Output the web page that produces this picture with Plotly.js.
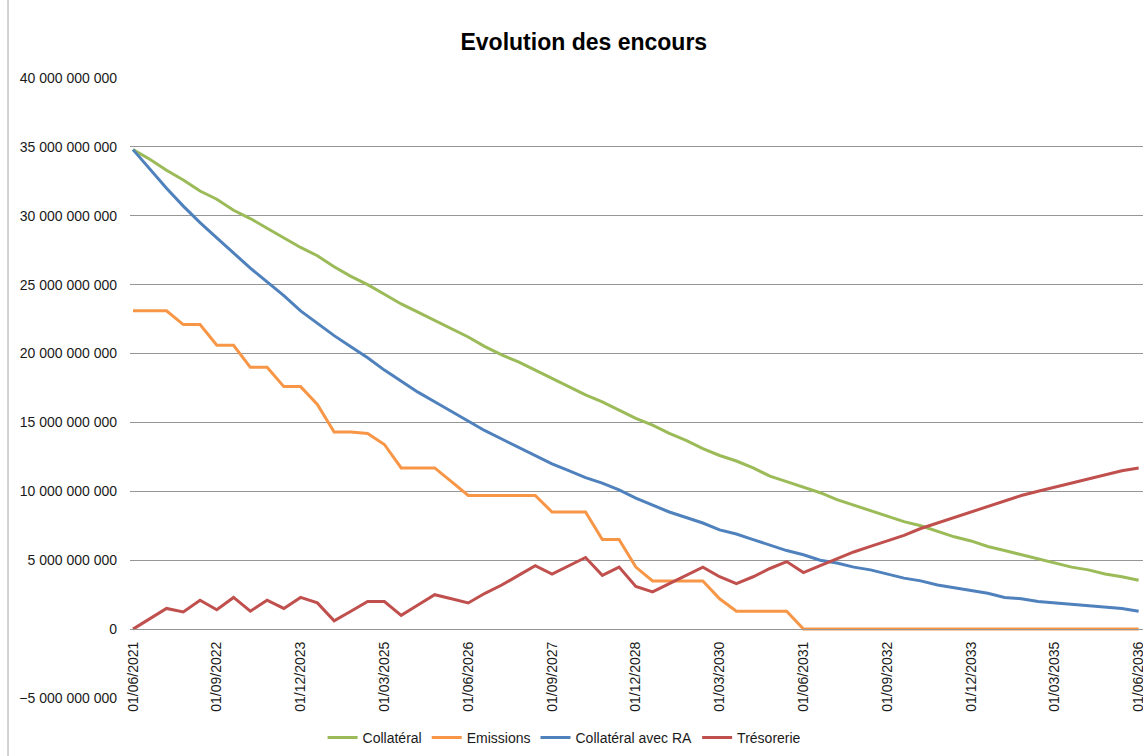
<!DOCTYPE html>
<html>
<head>
<meta charset="utf-8">
<script src="https://cdn.plot.ly/plotly-3.0.1.min.js"></script>
<style>
  html, body { margin: 0; padding: 0; background: #ffffff; }
  #chart { width: 1143px; height: 756px; }
</style>
</head>
<body>
<div id="chart"></div>
<script>
// Quarterly dates (categories)
const dates = [
  "01/06/2021","01/09/2021","01/12/2021",
  "01/03/2022","01/06/2022","01/09/2022","01/12/2022",
  "01/03/2023","01/06/2023","01/09/2023","01/12/2023",
  "01/03/2024","01/06/2024","01/09/2024","01/12/2024",
  "01/03/2025","01/06/2025","01/09/2025","01/12/2025",
  "01/03/2026","01/06/2026","01/09/2026","01/12/2026",
  "01/03/2027","01/06/2027","01/09/2027","01/12/2027",
  "01/03/2028","01/06/2028","01/09/2028","01/12/2028",
  "01/03/2029","01/06/2029","01/09/2029","01/12/2029",
  "01/03/2030","01/06/2030","01/09/2030","01/12/2030",
  "01/03/2031","01/06/2031","01/09/2031","01/12/2031",
  "01/03/2032","01/06/2032","01/09/2032","01/12/2032",
  "01/03/2033","01/06/2033","01/09/2033","01/12/2033",
  "01/03/2034","01/06/2034","01/09/2034","01/12/2034",
  "01/03/2035","01/06/2035","01/09/2035","01/12/2035",
  "01/03/2036","01/06/2036"
];

// Tick labels shown on the x axis
const tickLabels = [
  "01/06/2021","01/09/2022","01/12/2023","01/03/2025","01/06/2026",
  "01/09/2027","01/12/2028","01/03/2030","01/06/2031","01/09/2032",
  "01/12/2033","01/03/2035","01/06/2036"
];

// Series values, in billions
const collateral_bn = [
  34.8, 34.1, 33.3, 32.6, 31.8, 31.2, 30.4, 29.8, 29.1, 28.4,
  27.7, 27.1, 26.3, 25.6, 25.0, 24.3, 23.6, 23.0, 22.4, 21.8,
  21.2, 20.5, 19.9, 19.4, 18.8, 18.2, 17.6, 17.0, 16.5, 15.9,
  15.3, 14.8, 14.2, 13.7, 13.1, 12.6, 12.2, 11.7, 11.1, 10.7,
  10.3, 9.9, 9.4, 9.0, 8.6, 8.2, 7.8, 7.5, 7.1, 6.7,
  6.4, 6.0, 5.7, 5.4, 5.1, 4.8, 4.5, 4.3, 4.0, 3.8,
  3.55
];

const emissions_bn = [
  23.1, 23.1, 23.1, 22.1, 22.1, 20.6, 20.6, 19.0, 19.0, 17.6,
  17.6, 16.3, 14.3, 14.3, 14.2, 13.4, 11.7, 11.7, 11.7, 10.7,
  9.7, 9.7, 9.7, 9.7, 9.7, 8.5, 8.5, 8.5, 6.5, 6.5,
  4.5, 3.5, 3.5, 3.5, 3.5, 2.2, 1.3, 1.3, 1.3, 1.3,
  0, 0, 0, 0, 0, 0, 0, 0, 0, 0,
  0, 0, 0, 0, 0, 0, 0, 0, 0, 0,
  0
];

const collateralRA_bn = [
  34.8, 33.4, 32.0, 30.7, 29.5, 28.4, 27.3, 26.2, 25.2, 24.2,
  23.1, 22.2, 21.3, 20.5, 19.7, 18.8, 18.0, 17.2, 16.5, 15.8,
  15.1, 14.4, 13.8, 13.2, 12.6, 12.0, 11.5, 11.0, 10.6, 10.1,
  9.5, 9.0, 8.5, 8.1, 7.7, 7.2, 6.9, 6.5, 6.1, 5.7,
  5.4, 5.0, 4.8, 4.5, 4.3, 4.0, 3.7, 3.5, 3.2, 3.0,
  2.8, 2.6, 2.3, 2.2, 2.0, 1.9, 1.8, 1.7, 1.65, 1.5,
  1.3
];

const tresorerie_bn = [
  0, 0.75, 1.5, 1.25, 2.1, 1.4, 2.3, 1.3, 2.1, 1.5,
  2.3, 1.9, 0.6, 1.3, 2.0, 2.0, 1.0, 1.75, 2.5, 2.2,
  1.9, 2.6, 3.2, 3.9, 4.6, 4.0, 4.6, 5.2, 3.9, 4.5,
  3.1, 2.7, 3.3, 3.9, 4.5, 3.8, 3.3, 3.8, 4.4, 4.9,
  4.1, 4.6, 5.1, 5.6, 6.0, 6.4, 6.8, 7.3, 7.7, 8.1,
  8.5, 8.9, 9.3, 9.7, 10.0, 10.3, 10.6, 10.9, 11.2, 11.5,
  11.7
];

const seriesNames = ["Collatéral", "Emissions", "Collatéral avec RA", "Trésorerie"];
const seriesColors = ["#9BBB59", "#F79646", "#4F81BD", "#C0504D"];
const seriesData = [collateral_bn, emissions_bn, collateralRA_bn, tresorerie_bn];

const FONT = "Liberation Sans, Arial, sans-serif";

const traces = seriesData.map((vals, k) => ({
  type: "scatter",
  mode: "lines",
  name: seriesNames[k],
  x: dates,
  y: vals.map(v => v * 1e9),
  line: { color: seriesColors[k], width: 3 },
  hoverinfo: "x+y+name"
}));

const layout = {
  width: 1143,
  height: 756,
  paper_bgcolor: "#ffffff",
  plot_bgcolor: "#ffffff",
  separators: ", ",
  margin: { l: 130, r: 0, t: 78, b: 58, pad: 0 },
  font: { family: FONT, size: 14, color: "#1a1a1a" },
  title: {
    text: "<b>Evolution des encours</b>",
    font: { family: FONT, size: 23, color: "#000000" },
    x: 0.448, xref: "paper", xanchor: "center",
    y: 1 - 42 / 756, yref: "container", yanchor: "middle"
  },
  xaxis: {
    type: "category",
    range: [-0.179, 60.26],
    tickvals: tickLabels,
    ticktext: tickLabels,
    tickangle: -90,
    ticks: "",
    ticklabelstandoff: 6,
    showgrid: false,
    showline: true,
    linecolor: "#969696",
    linewidth: 1,
    zeroline: false,
    anchor: "free",
    position: 5 / 45,
    tickfont: { family: FONT, size: 14, color: "#1a1a1a" },
    fixedrange: true
  },
  yaxis: {
    range: [-5e9, 40e9],
    tickvals: [-5e9, 0, 5e9, 10e9, 15e9, 20e9, 25e9, 30e9, 35e9, 40e9],
    tickformat: ",.0f",
    showgrid: true,
    gridcolor: "#969696",
    gridwidth: 1,
    zeroline: false,
    showline: false,
    ticks: "",
    ticklabelstandoff: 12,
    tickfont: { family: FONT, size: 14, color: "#1a1a1a" },
    fixedrange: true
  },
  legend: {
    orientation: "h",
    x: 0.429, xanchor: "center",
    y: (698 - 738) / 620, yanchor: "middle",
    font: { family: FONT, size: 14, color: "#1a1a1a" },
    bgcolor: "rgba(0,0,0,0)",
    itemwidth: 30,
    tracegroupgap: 0
  },
  shapes: [
    {
      type: "line", xref: "paper", yref: "paper",
      x0: (8 - 130) / 1013, x1: (8 - 130) / 1013,
      y0: (698 - 0) / 620, y1: (698 - 756) / 620,
      line: { color: "#a6a6a6", width: 1 }
    }
  ],
  showlegend: true
};

Plotly.newPlot("chart", traces, layout, { displayModeBar: false, staticPlot: true });
</script>
</body>
</html>
